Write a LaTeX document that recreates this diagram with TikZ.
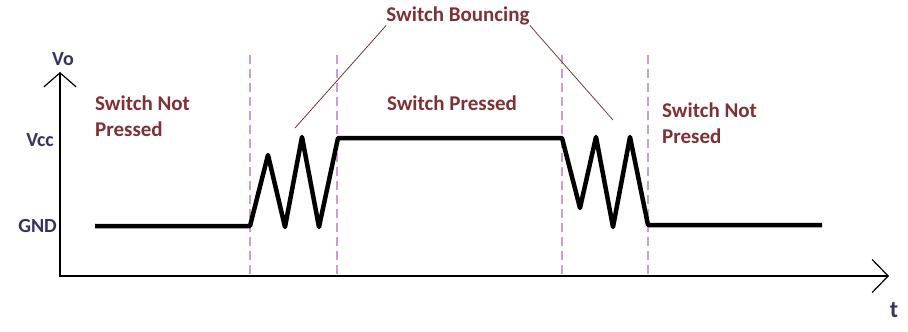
\documentclass[tikz,border=0pt]{standalone}
\usepackage{fontspec}
\setmainfont{Carlito}
\usetikzlibrary{arrows.meta}
\definecolor{labelred}{RGB}{128,48,52}
\definecolor{axisblue}{RGB}{52,52,100}
\definecolor{markpink}{RGB}{200,160,205}
\definecolor{pointgray}{RGB}{120,60,60}
\begin{document}
\begin{tikzpicture}[x=1pt,y=-1pt,
  axis/.style={line width=1.4pt},
  signal/.style={line width=4.5pt,line join=round},
  marker/.style={markpink,line width=1.6pt,dash pattern=on 9pt off 5pt},
  pointer/.style={pointgray,line width=0.8pt},
  note/.style={labelred,font=\bfseries\fontsize{21}{26}\selectfont,align=left,inner sep=0pt},
  level/.style={axisblue,font=\bfseries\fontsize{20}{22}\selectfont,inner sep=0pt}]
\useasboundingbox (0,0) rectangle (908,332);
% axes
\coordinate (O) at (60,276);
\coordinate (ytop) at (60,72);
\coordinate (xend) at (889,276);
\draw[axis,{Straight Barb[length=14pt,width=32pt,line width=1.2pt]}-{Straight Barb[length=16pt,width=33pt,line width=1.2pt]}] (ytop) -- (O) -- (xend);
\node[level] (vo) at (63,59) {Vo};
\node[level,anchor=east] (vcc) at (54,140) {Vcc};
\node[level,anchor=east] (gnd) at (57,226) {GND};
\node[level,font=\bfseries\fontsize{24}{26}\selectfont] (t) at (894,310) {t};
% bounce markers
\foreach \x in {250,337,562,648}
  \draw[marker] (\x,55) -- (\x,276);
% output
\draw[signal] (95,226) -- (250,226) -- (268,155) -- (285,227) -- (302,137) -- (319,227) -- (338,138)
  -- (562,138) -- (580,208) -- (596,137) -- (613,227) -- (630,137) -- (648,225) -- (822,225);
% labels
\node[note,anchor=west] (notpressed) at (95,116) {Switch Not\\Pressed};
\node[note] (pressed) at (452,103) {Switch Pressed};
\node[note,anchor=west] (notpresed) at (662,123) {Switch Not\\Presed};
\node[note] (bounce) at (458,16) {Switch Bouncing};
\coordinate (b1) at (295,128);
\coordinate (b2) at (613,120);
\draw[pointer] (bounce.south west) -- (b1);
\draw[pointer] (bounce.south east) -- (b2);
\end{tikzpicture}
\end{document}
